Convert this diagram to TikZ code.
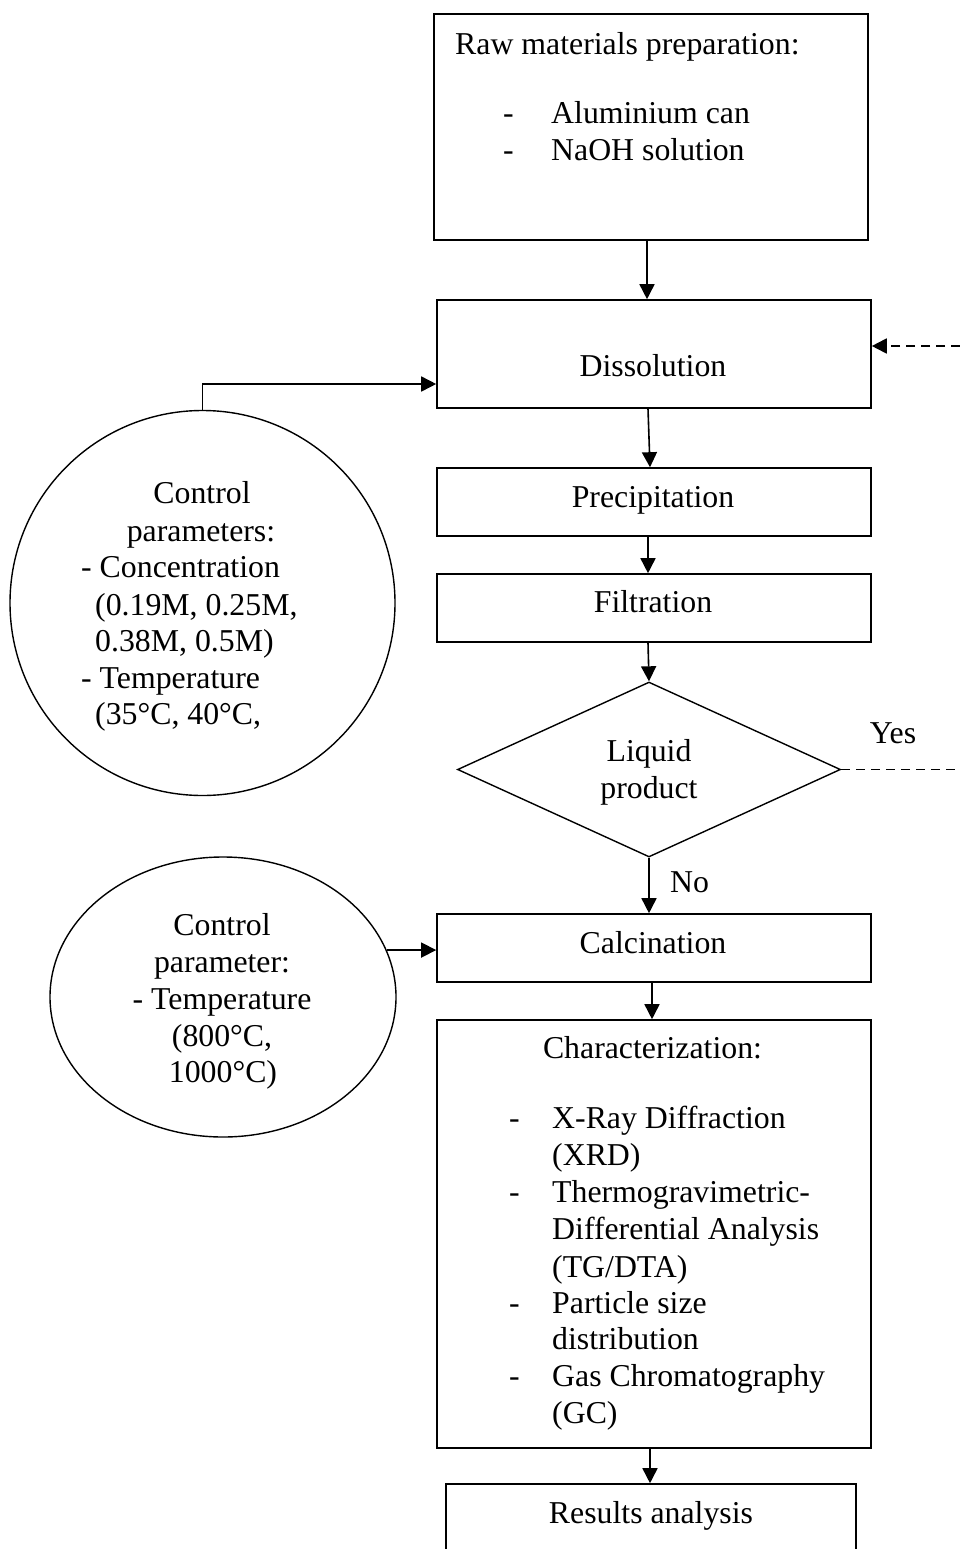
\documentclass[tikz,border=0pt]{standalone}
\usepackage{fontspec}
\setmainfont{Liberation Serif}
\usetikzlibrary{shapes.geometric,arrows.meta,calc}
\begin{document}
\begin{tikzpicture}[x=1pt,y=-1pt,
  box/.style={draw, line width=1.6pt, rectangle, inner sep=0pt, minimum width=434pt},
  shp/.style={draw, line width=1.4pt, inner sep=0pt},
  txt/.style={font=\fontsize{31.8}{36.8}\selectfont, inner sep=0pt},
  arr/.style={line width=1.6pt, -{Triangle[length=15pt,width=15pt]}},
  dsh/.style={line width=1.8pt, dash pattern=on 9pt off 6pt}]
\useasboundingbox (0,0) rectangle (960,1549);
\clip (0,0) rectangle (960,1549);

% boxes
\node[box, minimum height=226pt] (raw) at (651,127) {};
\node[box, minimum height=108pt] (diss) at (654,354) {};
\node[box, minimum height=68pt] (prec) at (654,502) {};
\node[box, minimum height=68pt] (filt) at (654,608) {};
\node[shp, diamond, minimum width=383pt, minimum height=175pt] (dia) at (649,769.5) {};
\node[box, minimum height=68pt] (calc) at (654,948) {};
\node[box, minimum height=428pt] (char) at (654,1234) {};
\node[box, minimum width=410pt, minimum height=140pt] (res) at (651,1554) {};

% parameter shapes
\node[shp, circle, minimum size=385pt] (c1) at (202.5,603) {};
\node[shp, ellipse, minimum width=346pt, minimum height=280pt] (c2) at (223,997) {};

% texts
\node[txt, anchor=base west] (rawt) at (455,55) {Raw materials preparation:};
\node[txt, anchor=base west] (rawd1) at (503,124) {-};
\node[txt, anchor=base west] (rawi1) at (551,124) {Aluminium can};
\node[txt, anchor=base west] (rawd2) at (503,161) {-};
\node[txt, anchor=base west] (rawi2) at (551,161) {NaOH solution};

\node[txt, anchor=base] (disst) at (653,376) {Dissolution};
\node[txt, anchor=base] (prect) at (653,507) {Precipitation};
\node[txt, anchor=base] (filtt) at (653,612) {Filtration};
\node[txt, anchor=base] (diat1) at (649,761) {Liquid};
\node[txt, anchor=base] (diat2) at (649,798) {product};
\node[txt, anchor=base] (yes) at (893,743) {Yes};
\node[txt, anchor=base west] (no) at (670,892) {No};
\node[txt, anchor=base] (calct) at (653,953) {Calcination};

\node[txt, anchor=base] (chart) at (652.5,1058) {Characterization:};
\node[txt, anchor=base west] (chd1) at (509,1128) {-};
\node[txt, anchor=base west] (chi1a) at (552,1128) {X-Ray Diffraction};
\node[txt, anchor=base west] (chi1b) at (552,1165) {(XRD)};
\node[txt, anchor=base west] (chd2) at (509,1202) {-};
\node[txt, anchor=base west] (chi2a) at (552,1202) {Thermogravimetric-};
\node[txt, anchor=base west] (chi2b) at (552,1239) {Differential Analysis};
\node[txt, anchor=base west] (chi2c) at (552,1277) {(TG/DTA)};
\node[txt, anchor=base west] (chd3) at (509,1313) {-};
\node[txt, anchor=base west] (chi3a) at (552,1313) {Particle size};
\node[txt, anchor=base west] (chi3b) at (552,1349) {distribution};
\node[txt, anchor=base west] (chd4) at (509,1386) {-};
\node[txt, anchor=base west] (chi4a) at (552,1386) {Gas Chromatography};
\node[txt, anchor=base west] (chi4b) at (552,1423) {(GC)};

\node[txt, anchor=base] (rest) at (651,1523) {Results analysis};

\node[txt, anchor=base] (c1t1) at (202,503) {Control};
\node[txt, anchor=base] (c1t2) at (201,541) {parameters:};
\node[txt, anchor=base west] (c1t3) at (81,577) {- Concentration};
\node[txt, anchor=base west] (c1t4) at (95,615) {(0.19M, 0.25M,};
\node[txt, anchor=base west] (c1t5) at (95,651) {0.38M, 0.5M)};
\node[txt, anchor=base west] (c1t6) at (81,688) {- Temperature};
\node[txt, anchor=base west] (c1t7) at (95,724) {(35°C, 40°C,};

\node[txt, anchor=base] (c2t1) at (222,935) {Control};
\node[txt, anchor=base] (c2t2) at (222,972) {parameter:};
\node[txt, anchor=base] (c2t3) at (222,1009) {- Temperature};
\node[txt, anchor=base] (c2t4) at (222,1046) {(800°C,};
\node[txt, anchor=base] (c2t5) at (223,1082) {1000°C)};

% connectors
\coordinate (fb) at (960,346);
\draw[arr] ([xshift=-4pt]raw.south) -- ([xshift=-4pt]raw.south |- diss.north);
\draw[arr] ([xshift=-6pt]diss.south) -- ([xshift=-4pt]diss.south |- prec.north);
\draw[arr] ([xshift=-6pt]prec.south) -- ([xshift=-6pt]prec.south |- filt.north);
\draw[arr] ([xshift=-6pt]filt.south) -- (dia.north);
\draw[arr] (dia.south) -- (dia.south |- calc.north);
\draw[arr] ([xshift=-2pt]calc.south) -- ([xshift=-2pt]calc.south |- char.north);
\draw[arr] ([xshift=-4pt]char.south) -- ([xshift=-4pt]char.south |- res.north);
\draw[arr] (c1.north) |- ([yshift=-30pt]diss.west);
\draw[arr] (c2.16) -- (c2.16 -| calc.west);
\draw[dsh, -{Triangle[length=15pt,width=15pt]}] (fb) -- (fb -| diss.east);
\draw[dsh] (dia.east) -- (dia.east -| fb);
\end{tikzpicture}
\end{document}
